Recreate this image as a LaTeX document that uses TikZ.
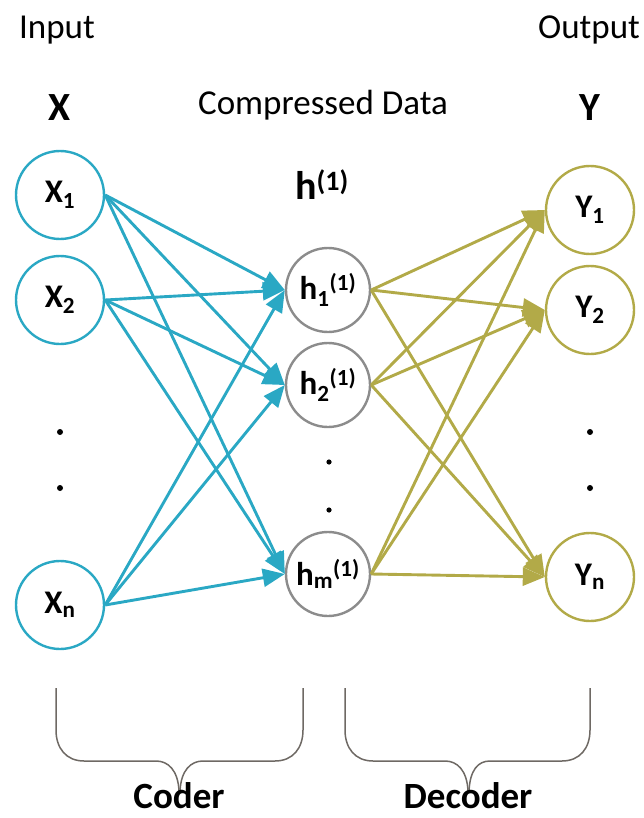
\documentclass[tikz,border=0pt]{standalone}
\usepackage{fontspec}
\setmainfont{Carlito}
\usetikzlibrary{arrows.meta}

\definecolor{encblue}{RGB}{42,168,196}
\definecolor{decolive}{RGB}{178,170,72}
\definecolor{ringgray}{RGB}{140,140,140}
\definecolor{bracegray}{RGB}{110,105,100}

\begin{document}
\begin{tikzpicture}[x=1pt,y=-1pt,
  inode/.style={circle, draw=encblue, line width=2.4pt, minimum size=88pt, inner sep=0pt,
                font=\fontsize{33}{35}\selectfont\bfseries},
  hnode/.style={circle, draw=ringgray, line width=2.4pt, minimum size=84pt, inner sep=0pt,
                font=\fontsize{33}{35}\selectfont\bfseries},
  onode/.style={circle, draw=decolive, line width=2.4pt, minimum size=88pt, inner sep=0pt,
                font=\fontsize{33}{35}\selectfont\bfseries},
  enc/.style={draw=encblue, line width=2.9pt, -{Triangle[length=22pt,width=18pt]}},
  dec/.style={draw=decolive, line width=2.9pt, -{Triangle[length=22pt,width=18pt]}},
  lbl/.style={font=\fontsize{35}{38}\selectfont, inner sep=0pt},
  head/.style={font=\fontsize{40}{42}\selectfont\bfseries, inner sep=0pt},
  foot/.style={font=\fontsize{37}{40}\selectfont\bfseries, inner sep=0pt, anchor=base},
  brace/.style={draw=bracegray, line width=1.5pt},
  dot/.style={fill=black}
]
\useasboundingbox (0,0) rectangle (644,818);

% column headings
\node[lbl] (inlbl) at (57,30) {Input};
\node[lbl] (outlbl) at (589,30) {Output};
\node[lbl] (cdlbl) at (323,105) {Compressed Data};
\node[head] (xhead) at (60,108) {X};
\node[head] (yhead) at (590,108) {Y};
\node[head] (hhead) at (322,185) {h\textsuperscript{(1)}};

% input layer
\node[inode] (x1) at (60,195) {X\textsubscript{1}};
\node[inode] (x2) at (60,300) {X\textsubscript{2}};
\node[inode] (xn) at (60,605) {X\textsubscript{n}};

% hidden (compressed) layer
\node[hnode] (h1) at (328,290) {h\textsubscript{1}\textsuperscript{(1)}};
\node[hnode] (h2) at (328,385) {h\textsubscript{2}\textsuperscript{(1)}};
\node[hnode] (hm) at (328,574) {h\textsubscript{m}\textsuperscript{(1)}};

% output layer
\node[onode] (y1) at (590,210) {Y\textsubscript{1}};
\node[onode] (y2) at (590,310) {Y\textsubscript{2}};
\node[onode] (yn) at (590,577) {Y\textsubscript{n}};

% ellipsis dots
\fill[dot] (60,432) circle (3pt);
\fill[dot] (60,488) circle (3pt);
\fill[dot] (329,462) circle (2.6pt);
\fill[dot] (329,510) circle (2.6pt);
\fill[dot] (590,432) circle (3pt);
\fill[dot] (590,488) circle (3pt);

% encoder connections
\foreach \s in {x1,x2,xn}
  \foreach \t in {h1,h2,hm}
    \draw[enc] (\s.east) -- (\t.west);

% decoder connections
\foreach \s in {h1,h2,hm}
  \foreach \t in {y1,y2,yn}
    \draw[dec] (\s.east) -- (\t.west);

% braces
\draw[brace] (56,688) -- (56,730) .. controls (56,748) and (66,761) .. (84,761) -- (156,761)
  .. controls (168,761) and (178,770) .. (179,791);
\draw[brace] (303,688) -- (303,730) .. controls (303,748) and (293,761) .. (275,761) -- (203,761)
  .. controls (191,761) and (181,770) .. (180,791);
\draw[brace] (345,688) -- (345,730) .. controls (345,748) and (355,761) .. (373,761) -- (445,761)
  .. controls (457,761) and (467,770) .. (468,791);
\draw[brace] (590,688) -- (590,730) .. controls (590,748) and (580,761) .. (562,761) -- (490,761)
  .. controls (478,761) and (470,770) .. (469,791);

\node[foot] (coder) at (179,808) {Coder};
\node[foot] (decoder) at (468,808) {Decoder};
\end{tikzpicture}
\end{document}
